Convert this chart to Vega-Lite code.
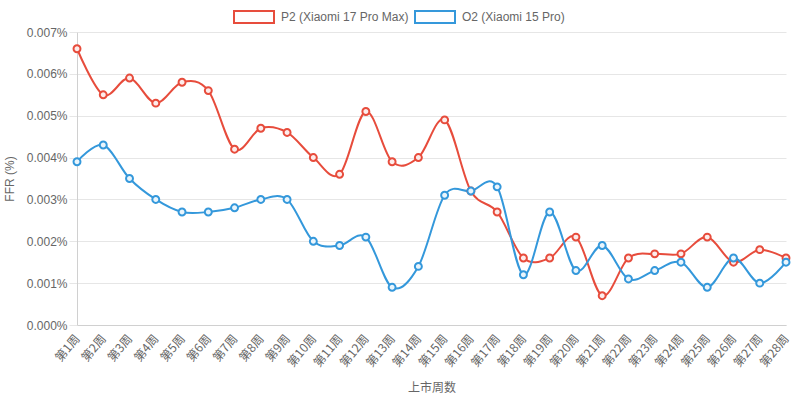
{
  "$schema": "https://vega.github.io/schema/vega-lite/v6.json",
  "width": 709,
  "height": 293,
  "autosize": {"type": "none"},
  "padding": {"left": 77, "top": 32, "right": 14, "bottom": 76},
  "background": "white",
  "config": {
    "font": "Liberation Sans",
    "view": {"stroke": null},
    "axis": {"labelColor": "#666666", "titleColor": "#666666", "labelFontSize": 12, "titleFontSize": 12, "titleFontWeight": "normal", "gridColor": "#e6e6e6", "domainColor": "#d0d0d0", "tickColor": "#e6e6e6"}
  },
  "data": {"values": [
    {"week": "第1周", "series": "P2 (Xiaomi 17 Pro Max)", "ffr": 0.0066},
    {"week": "第2周", "series": "P2 (Xiaomi 17 Pro Max)", "ffr": 0.0055},
    {"week": "第3周", "series": "P2 (Xiaomi 17 Pro Max)", "ffr": 0.0059},
    {"week": "第4周", "series": "P2 (Xiaomi 17 Pro Max)", "ffr": 0.0053},
    {"week": "第5周", "series": "P2 (Xiaomi 17 Pro Max)", "ffr": 0.0058},
    {"week": "第6周", "series": "P2 (Xiaomi 17 Pro Max)", "ffr": 0.0056},
    {"week": "第7周", "series": "P2 (Xiaomi 17 Pro Max)", "ffr": 0.0042},
    {"week": "第8周", "series": "P2 (Xiaomi 17 Pro Max)", "ffr": 0.0047},
    {"week": "第9周", "series": "P2 (Xiaomi 17 Pro Max)", "ffr": 0.0046},
    {"week": "第10周", "series": "P2 (Xiaomi 17 Pro Max)", "ffr": 0.0040},
    {"week": "第11周", "series": "P2 (Xiaomi 17 Pro Max)", "ffr": 0.0036},
    {"week": "第12周", "series": "P2 (Xiaomi 17 Pro Max)", "ffr": 0.0051},
    {"week": "第13周", "series": "P2 (Xiaomi 17 Pro Max)", "ffr": 0.0039},
    {"week": "第14周", "series": "P2 (Xiaomi 17 Pro Max)", "ffr": 0.0040},
    {"week": "第15周", "series": "P2 (Xiaomi 17 Pro Max)", "ffr": 0.0049},
    {"week": "第16周", "series": "P2 (Xiaomi 17 Pro Max)", "ffr": 0.0032},
    {"week": "第17周", "series": "P2 (Xiaomi 17 Pro Max)", "ffr": 0.0027},
    {"week": "第18周", "series": "P2 (Xiaomi 17 Pro Max)", "ffr": 0.0016},
    {"week": "第19周", "series": "P2 (Xiaomi 17 Pro Max)", "ffr": 0.0016},
    {"week": "第20周", "series": "P2 (Xiaomi 17 Pro Max)", "ffr": 0.0021},
    {"week": "第21周", "series": "P2 (Xiaomi 17 Pro Max)", "ffr": 0.0007},
    {"week": "第22周", "series": "P2 (Xiaomi 17 Pro Max)", "ffr": 0.0016},
    {"week": "第23周", "series": "P2 (Xiaomi 17 Pro Max)", "ffr": 0.0017},
    {"week": "第24周", "series": "P2 (Xiaomi 17 Pro Max)", "ffr": 0.0017},
    {"week": "第25周", "series": "P2 (Xiaomi 17 Pro Max)", "ffr": 0.0021},
    {"week": "第26周", "series": "P2 (Xiaomi 17 Pro Max)", "ffr": 0.0015},
    {"week": "第27周", "series": "P2 (Xiaomi 17 Pro Max)", "ffr": 0.0018},
    {"week": "第28周", "series": "P2 (Xiaomi 17 Pro Max)", "ffr": 0.0016},
    {"week": "第1周", "series": "O2 (Xiaomi 15 Pro)", "ffr": 0.0039},
    {"week": "第2周", "series": "O2 (Xiaomi 15 Pro)", "ffr": 0.0043},
    {"week": "第3周", "series": "O2 (Xiaomi 15 Pro)", "ffr": 0.0035},
    {"week": "第4周", "series": "O2 (Xiaomi 15 Pro)", "ffr": 0.0030},
    {"week": "第5周", "series": "O2 (Xiaomi 15 Pro)", "ffr": 0.0027},
    {"week": "第6周", "series": "O2 (Xiaomi 15 Pro)", "ffr": 0.0027},
    {"week": "第7周", "series": "O2 (Xiaomi 15 Pro)", "ffr": 0.0028},
    {"week": "第8周", "series": "O2 (Xiaomi 15 Pro)", "ffr": 0.0030},
    {"week": "第9周", "series": "O2 (Xiaomi 15 Pro)", "ffr": 0.0030},
    {"week": "第10周", "series": "O2 (Xiaomi 15 Pro)", "ffr": 0.0020},
    {"week": "第11周", "series": "O2 (Xiaomi 15 Pro)", "ffr": 0.0019},
    {"week": "第12周", "series": "O2 (Xiaomi 15 Pro)", "ffr": 0.0021},
    {"week": "第13周", "series": "O2 (Xiaomi 15 Pro)", "ffr": 0.0009},
    {"week": "第14周", "series": "O2 (Xiaomi 15 Pro)", "ffr": 0.0014},
    {"week": "第15周", "series": "O2 (Xiaomi 15 Pro)", "ffr": 0.0031},
    {"week": "第16周", "series": "O2 (Xiaomi 15 Pro)", "ffr": 0.0032},
    {"week": "第17周", "series": "O2 (Xiaomi 15 Pro)", "ffr": 0.0033},
    {"week": "第18周", "series": "O2 (Xiaomi 15 Pro)", "ffr": 0.0012},
    {"week": "第19周", "series": "O2 (Xiaomi 15 Pro)", "ffr": 0.0027},
    {"week": "第20周", "series": "O2 (Xiaomi 15 Pro)", "ffr": 0.0013},
    {"week": "第21周", "series": "O2 (Xiaomi 15 Pro)", "ffr": 0.0019},
    {"week": "第22周", "series": "O2 (Xiaomi 15 Pro)", "ffr": 0.0011},
    {"week": "第23周", "series": "O2 (Xiaomi 15 Pro)", "ffr": 0.0013},
    {"week": "第24周", "series": "O2 (Xiaomi 15 Pro)", "ffr": 0.0015},
    {"week": "第25周", "series": "O2 (Xiaomi 15 Pro)", "ffr": 0.0009},
    {"week": "第26周", "series": "O2 (Xiaomi 15 Pro)", "ffr": 0.0016},
    {"week": "第27周", "series": "O2 (Xiaomi 15 Pro)", "ffr": 0.0010},
    {"week": "第28周", "series": "O2 (Xiaomi 15 Pro)", "ffr": 0.0015}
  ]},
  "encoding": {
    "x": {
      "field": "week", "type": "ordinal",
      "sort": ["第1周","第2周","第3周","第4周","第5周","第6周","第7周","第8周","第9周","第10周","第11周","第12周","第13周","第14周","第15周","第16周","第17周","第18周","第19周","第20周","第21周","第22周","第23周","第24周","第25周","第26周","第27周","第28周"],
      "scale": {"type": "point", "padding": 0},
      "axis": {"title": "上市周数", "labelAngle": -50, "labelAlign": "right", "labelBaseline": "middle", "labelPadding": 11, "ticks": false, "grid": false, "labelFont": "Noto Sans CJK SC", "titleFont": "Noto Sans CJK SC", "titlePadding": 14, "labelOverlap": false}
    },
    "y": {
      "field": "ffr", "type": "quantitative",
      "scale": {"domain": [0, 0.007], "nice": false},
      "axis": {"title": "FFR (%)", "values": [0, 0.001, 0.002, 0.003, 0.004, 0.005, 0.006, 0.007], "labelExpr": "format(datum.value, '.3f') + '%'", "domain": true, "tickSize": 8, "labelPadding": 2, "titlePadding": 10}
    }
  },
  "layer": [
    {
      "mark": {"type": "line", "interpolate": "cardinal", "tension": 0, "strokeWidth": 2},
      "encoding": {
        "color": {
          "field": "series", "type": "nominal",
          "scale": {"domain": ["P2 (Xiaomi 17 Pro Max)", "O2 (Xiaomi 15 Pro)"], "range": ["#e74c3c", "#3498db"]},
          "legend": {
            "title": null, "orient": "none", "direction": "horizontal", "legendX": 156, "legendY": -36,
            "labelFontSize": 12, "labelColor": "#666666", "labelFont": "Liberation Sans",
            "symbolType": "M-1,-0.3H1V0.3H-1Z", "symbolSize": 1600, "symbolStrokeWidth": 2,
            "labelOffset": 6, "columnPadding": 2, "padding": 0,
            "encode": {"symbols": {"update": {"fill": {"scale": "color", "field": "value"}, "fillOpacity": {"value": 0.1}, "stroke": {"scale": "color", "field": "value"}, "strokeWidth": {"value": 2}}}}
          }
        }
      }
    },
    {
      "mark": {"type": "point", "shape": "circle", "filled": false, "size": 48, "strokeWidth": 2, "opacity": 1},
      "encoding": {
        "stroke": {"field": "series", "type": "nominal", "scale": {"domain": ["P2 (Xiaomi 17 Pro Max)", "O2 (Xiaomi 15 Pro)"], "range": ["#e74c3c", "#3498db"]}, "legend": null},
        "fill": {"field": "series", "type": "nominal", "scale": {"domain": ["P2 (Xiaomi 17 Pro Max)", "O2 (Xiaomi 15 Pro)"], "range": ["#fdeceb", "#eaf5fc"]}, "legend": null}
      }
    }
  ]
}
